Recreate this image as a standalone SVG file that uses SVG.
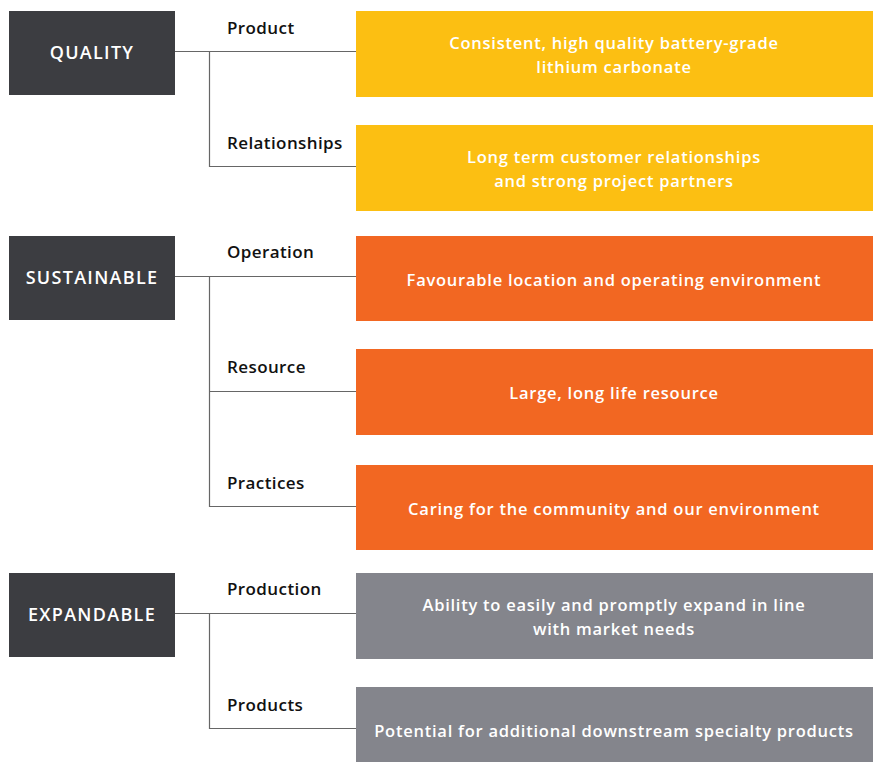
<svg xmlns="http://www.w3.org/2000/svg" width="880" height="762" viewBox="0 0 880 762">
<style>
.cat rect{fill:#3c3d41}
.cat text{fill:#fff;font-family:"Open Sans","DejaVu Sans",sans-serif;font-size:18px;font-weight:600;text-anchor:middle;letter-spacing:1.3px}
.lbl{fill:#111;font-family:"Open Sans","DejaVu Sans",sans-serif;font-size:17px;font-weight:600;letter-spacing:0.4px}
.box text{fill:#fff;font-family:"Open Sans","DejaVu Sans",sans-serif;font-size:16.5px;font-weight:600;text-anchor:middle;letter-spacing:0.75px}
.y rect{fill:#fcbf12}
.o rect{fill:#f26722}
.g rect{fill:#84858c}
#connectors path{fill:none;stroke:#666;stroke-width:1.2}
</style>
<rect width="880" height="762" fill="#fff"/>
<g id="connectors">
<path d="M175 51.5H356M209.5 51.5V166.5H356"/>
<path d="M175 276.5H356M209.5 276.5V506.5H356M209.5 391.5H356"/>
<path d="M175 613.5H356M209.5 613.5V728.5H356"/>
</g>
<g id="quality" class="cat"><rect x="9" y="11" width="166" height="84"/><text x="92" y="59">QUALITY</text></g>
<g id="sustainable" class="cat"><rect x="9" y="236" width="166" height="84"/><text x="92" y="284">SUSTAINABLE</text></g>
<g id="expandable" class="cat"><rect x="9" y="573" width="166" height="84"/><text x="92" y="621">EXPANDABLE</text></g>
<g id="labels">
<text class="lbl" x="227" y="34">Product</text>
<text class="lbl" x="227" y="149">Relationships</text>
<text class="lbl" x="227" y="258">Operation</text>
<text class="lbl" x="227" y="373">Resource</text>
<text class="lbl" x="227" y="489">Practices</text>
<text class="lbl" x="227" y="595">Production</text>
<text class="lbl" x="227" y="711">Products</text>
</g>
<g id="product-box" class="box y"><rect x="356" y="11" width="517" height="86"/><text x="614" y="49">Consistent, high quality battery-grade</text><text x="614" y="73">lithium carbonate</text></g>
<g id="relationships-box" class="box y"><rect x="356" y="125" width="517" height="86"/><text x="614" y="163">Long term customer relationships</text><text x="614" y="187">and strong project partners</text></g>
<g id="operation-box" class="box o"><rect x="356" y="236" width="517" height="85"/><text x="614" y="286">Favourable location and operating environment</text></g>
<g id="resource-box" class="box o"><rect x="356" y="349" width="517" height="86"/><text x="614" y="399">Large, long life resource</text></g>
<g id="practices-box" class="box o"><rect x="356" y="465" width="517" height="85"/><text x="614" y="515">Caring for the community and our environment</text></g>
<g id="production-box" class="box g"><rect x="356" y="573" width="517" height="86"/><text x="614" y="611">Ability to easily and promptly expand in line</text><text x="614" y="635">with market needs</text></g>
<g id="products-box" class="box g"><rect x="356" y="687" width="517" height="75"/><text x="614" y="737">Potential for additional downstream specialty products</text></g>
</svg>
